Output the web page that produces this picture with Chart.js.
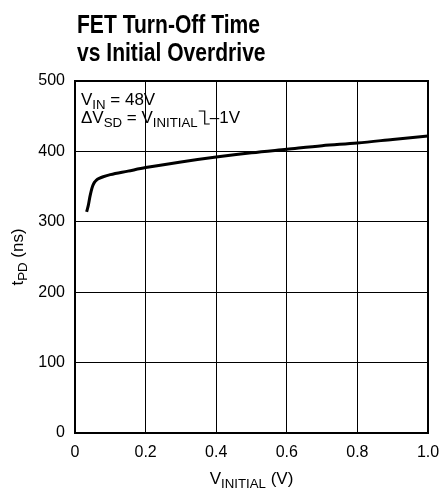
<!DOCTYPE html>
<html lang="en">
<head>
    <meta charset="UTF-8">
    <title>FET Turn-Off Time vs Initial Overdrive</title>
    <script src="https://cdn.jsdelivr.net/npm/chart.js"></script>
    <style>
        body { margin: 0; background: #fff; }
        #chart { display: block; }
    </style>
</head>
<body>
    <canvas id="chart" width="439" height="494"></canvas>

    <script>
        // values
        const vInitial = [0.033, 0.038, 0.042, 0.046, 0.050, 0.055, 0.060, 0.070, 0.080, 0.100, 0.150, 0.200, 0.300, 0.400, 0.500, 0.600, 0.700, 0.800, 0.900, 1.000];
        const tPD = [314, 324, 335, 344, 351, 356, 359, 362, 364, 367, 372, 377, 385, 392, 398, 403, 408, 412, 417, 422];
        const xTickLabels = ['0', '0.2', '0.4', '0.6', '0.8', '1.0'];
        const yTickLabels = ['0', '100', '200', '300', '400', '500'];

        const FONT = '"Liberation Sans", Arial, sans-serif';

        // draws text with subscript parts, returns end x
        function drawRich(ctx, parts, x, y, size) {
            parts.forEach(p => {
                const sub = p[1] === 's';
                ctx.font = (sub ? size * 0.78 : size) + 'px ' + FONT;
                ctx.fillText(p[0], x, sub ? y + 4 : y);
                x += ctx.measureText(p[0]).width;
            });
            return x;
        }
        function richWidth(ctx, parts, size) {
            let w = 0;
            parts.forEach(p => {
                ctx.font = (p[1] === 's' ? size * 0.78 : size) + 'px ' + FONT;
                w += ctx.measureText(p[0]).width;
            });
            return w;
        }

        const decorPlugin = {
            id: 'decor',
            afterDraw(chart) {
                const ctx = chart.ctx;
                const a = chart.chartArea;
                ctx.save();
                ctx.fillStyle = '#000';
                ctx.textBaseline = 'alphabetic';
                ctx.textAlign = 'left';

                // title (squeezed to look like a condensed face)
                ctx.save();
                ctx.font = 'bold 26px ' + FONT;
                const sx = 183 / ctx.measureText('FET Turn-Off Time').width;
                ctx.translate(77, 0);
                ctx.scale(sx, 1);
                ctx.fillText('FET Turn-Off Time', 0, 33);
                ctx.fillText('vs Initial Overdrive', 0, 61);
                ctx.restore();

                // frame
                ctx.strokeStyle = '#000';
                ctx.lineWidth = 2;
                ctx.strokeRect(a.left, a.top, a.right - a.left, a.bottom - a.top);

                // conditions
                const fs = 17;
                let x0 = a.left + 6;
                drawRich(ctx, [['V', 'n'], ['IN', 's'], [' = 48V', 'n']], x0, a.top + 24, fs);
                let x = drawRich(ctx, [['\u0394V', 'n'], ['SD', 's'], [' = V', 'n'], ['INITIAL', 's']], x0, a.top + 42, fs);
                ctx.lineWidth = 1.2;
                ctx.beginPath();
                ctx.moveTo(x + 1, a.top + 30);
                ctx.lineTo(x + 7, a.top + 30);
                ctx.lineTo(x + 7, a.top + 43);
                ctx.lineTo(x + 12, a.top + 43);
                ctx.stroke();
                drawRich(ctx, [['\u20131V', 'n']], x + 12, a.top + 42, fs);

                // x axis title
                const xParts = [['V', 'n'], ['INITIAL', 's'], [' (V)', 'n']];
                const xw = richWidth(ctx, xParts, fs);
                drawRich(ctx, xParts, (a.left + a.right) / 2 - xw / 2, 484, fs);

                // y axis title
                const yParts = [['t', 'n'], ['PD', 's'], [' (ns)', 'n']];
                const yw = richWidth(ctx, yParts, fs);
                ctx.translate(23, (a.top + a.bottom) / 2 + yw / 2);
                ctx.rotate(-Math.PI / 2);
                drawRich(ctx, yParts, 0, 0, fs);
                ctx.restore();
            }
        };

        new Chart(document.getElementById('chart'), {
            type: 'line',
            data: {
                datasets: [{
                    data: vInitial.map((v, i) => ({ x: v, y: tPD[i] })),
                    borderColor: '#000',
                    borderWidth: 3,
                    pointRadius: 0,
                    cubicInterpolationMode: 'monotone',
                    fill: false
                }]
            },
            options: {
                responsive: false,
                animation: false,
                layout: { padding: { top: 81, right: 11, left: 0, bottom: 0 } },
                plugins: {
                    legend: { display: false },
                    tooltip: { enabled: false }
                },
                scales: {
                    x: {
                        type: 'linear',
                        min: 0,
                        max: 1,
                        afterFit: s => {
                            s.height = 61;
                            s.paddingLeft = 0;
                            s.paddingRight = 0;
                        },
                        grid: { color: '#000', lineWidth: 1, drawTicks: false },
                        border: { display: false },
                        ticks: {
                            stepSize: 0.2,
                            padding: 10,
                            color: '#000',
                            font: { family: FONT, size: 16 },
                            maxRotation: 0,
                            callback: (v, i) => xTickLabels[i]
                        }
                    },
                    y: {
                        min: 0,
                        max: 500,
                        afterFit: s => {
                            s.width = 75;
                            s.paddingTop = 0;
                            s.paddingBottom = 0;
                        },
                        grid: { color: '#000', lineWidth: 1, drawTicks: false },
                        border: { display: false },
                        ticks: {
                            stepSize: 100,
                            padding: 10,
                            color: '#000',
                            font: { family: FONT, size: 16 },
                            callback: (v, i) => yTickLabels[i]
                        }
                    }
                }
            },
            plugins: [decorPlugin]
        });
    </script>
</body>
</html>
